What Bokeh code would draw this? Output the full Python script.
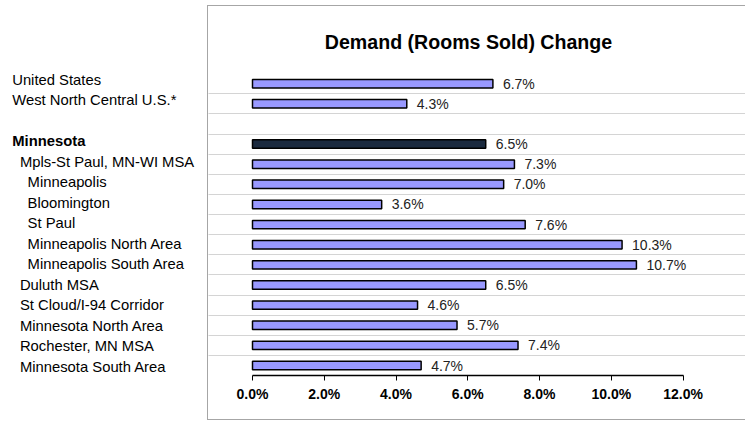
from bokeh.plotting import figure
from bokeh.models import ColumnDataSource, Range1d, Label, FixedTicker, PrintfTickFormatter
from bokeh.layouts import row
from bokeh.core.properties import value
from bokeh.embed import file_html
from bokeh.resources import INLINE

# ---------------- data ----------------
title_text = "Demand (Rooms Sold) Change"
categories = [
    "United States",
    "West North Central U.S.*",
    "Minnesota",
    "Mpls-St Paul, MN-WI MSA",
    "Minneapolis",
    "Bloomington",
    "St Paul",
    "Minneapolis North Area",
    "Minneapolis South Area",
    "Duluth MSA",
    "St Cloud/I-94 Corridor",
    "Minnesota North Area",
    "Rochester, MN MSA",
    "Minnesota South Area",
]
indent_levels = [0, 0, 0, 1, 2, 2, 2, 2, 2, 1, 1, 1, 1, 1]
changes = [6.7, 4.3, 6.5, 7.3, 7.0, 3.6, 7.6, 10.3, 10.7, 6.5, 4.6, 5.7, 7.4, 4.7]
highlight = "Minnesota"
x_ticks = [0, 2, 4, 6, 8, 10, 12]

# ---------------- styling ----------------
FONT = "Liberation Sans"
BAR = "#9999FF"
BAR_HI = "#1B2A3F"
BORDER = "1px solid #a6a6a6"

# a blank row separates the first two rows from the Minnesota group
rows = [i if i < 2 else i + 1 for i in range(len(categories))]

src = ColumnDataSource(dict(
    y=rows,
    v=changes,
    lab=[f"{c:.1f}%" for c in changes],
    color=[BAR_HI if c == highlight else BAR for c in categories],
))
lab_src = ColumnDataSource(dict(
    y=rows,
    x=[11.7 + 7.7 * lv for lv in indent_levels],
    text=categories,
    style=["bold" if c == highlight else "normal" for c in categories],
))

H = 415
BOTTOM = 46

# ---------------- chart (right) ----------------
p = figure(width=538, height=H, output_backend="svg", toolbar_location=None,
           x_range=Range1d(-1.2263, 13.768), y_range=Range1d(14.496, -3.835),
           y_axis_location=None,
           min_border_left=0, min_border_right=0, min_border_top=0,
           min_border_bottom=BOTTOM,
           styles={"margin-top": "5px", "border-top": BORDER,
                   "border-left": BORDER, "border-bottom": BORDER})
p.outline_line_color = None
p.background_fill_color = "white"
p.border_fill_color = "white"

p.xgrid.visible = False
p.ygrid.ticker = FixedTicker(ticks=[r + 0.5 for r in range(14)])
p.ygrid.bounds = (x_ticks[0], x_ticks[-1])
p.ygrid.grid_line_color = "#a8a8a8"
p.ygrid.grid_line_dash = "1 1"
p.ygrid.grid_line_width = 1

ax = p.xaxis[0]
ax.ticker = FixedTicker(ticks=x_ticks)
ax.bounds = (x_ticks[0], x_ticks[-1])
ax.formatter = PrintfTickFormatter(format="%.1f%%")
ax.axis_line_color = "black"
ax.axis_line_width = 1.5
ax.major_tick_line_color = "black"
ax.major_tick_out = 5
ax.major_tick_in = 0
ax.minor_tick_out = 0
ax.minor_tick_in = 0
ax.major_label_standoff = 5
ax.major_label_text_font = FONT
ax.major_label_text_font_size = "14px"
ax.major_label_text_font_style = "bold"
ax.major_label_text_color = "black"

p.hbar(y="y", left=0, right="v", height=0.42, fill_color="color",
       line_color="black", line_width=1.5, source=src)
p.text(x="v", y="y", text="lab", x_offset=10, text_align="left",
       text_baseline="middle", text_font=value(FONT), text_font_size="14px",
       text_color="#222222", source=src)

p.add_layout(Label(x=6.02, y=-2.07, text=title_text, text_align="center",
                   text_baseline="middle", text_font=FONT, text_font_size="19.6px",
                   text_font_style="bold", text_color="black"))

# ---------------- category labels (left) ----------------
q = figure(width=207, height=H, output_backend="svg", toolbar_location=None,
           x_range=Range1d(0, 207), y_range=Range1d(14.439, -3.561),
           x_axis_location=None, y_axis_location=None,
           min_border_left=0, min_border_right=0, min_border_top=0,
           min_border_bottom=BOTTOM,
           styles={"margin-top": "5px",
                   "border-top": "1px solid transparent",
                   "border-bottom": "1px solid transparent"})
q.outline_line_color = None
q.grid.visible = False
q.text(x="x", y="y", text="text", text_font_style="style", text_align="left",
       text_baseline="middle", text_font=value(FONT), text_font_size="14.8px",
       text_color="black", source=lab_src)

layout = row(q, p)
open("out.html", "w").write(file_html(layout, INLINE, title=title_text))
